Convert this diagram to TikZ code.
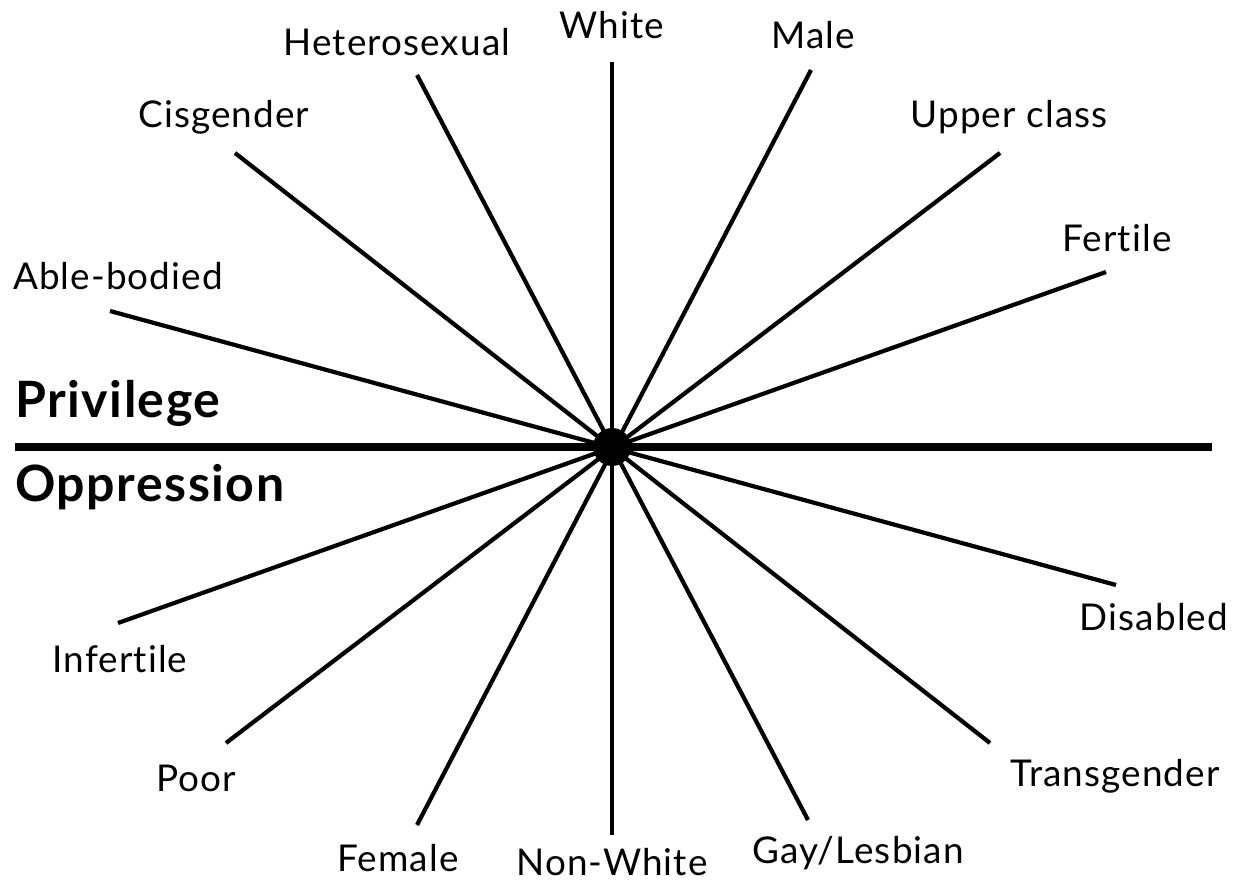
\documentclass[tikz,border=0pt]{standalone}
\usepackage{fontspec}
\setmainfont{Lato}[Ligatures=NoCommon, LetterSpace=3]
\usetikzlibrary{positioning}

\begin{document}
\begin{tikzpicture}[x=0.02cm, y=-0.02cm,
  spoke/.style={line width=2.4pt},
  axis/.style={line width=4.5pt},
  lbl/.style={font=\fontsize{21}{24}\selectfont, inner sep=0pt},
  side/.style={font=\fontsize{28.5}{32}\selectfont\bfseries, inner sep=0pt, anchor=west}]
  \useasboundingbox (0,0) rectangle (1241,884);

  % spoke ends
  \foreach \n/\x/\y in {white/612/62, nonwhite/612/835, male/811/70, female/417/825,
      upper/1000/153, poor/226/743, fertile/1106/272, infertile/118/623,
      disabled/1116/585, able/110/311, trans/990/743, cis/235/153,
      gay/808/820, hetero/417/75}
    \coordinate (\n) at (\x,\y);

  \coordinate (left) at (15,447);
  \coordinate (right) at (1212,447);
  \draw[axis] (left) -- (right);

  \foreach \a/\b in {white/nonwhite, male/female, upper/poor, fertile/infertile,
      able/disabled, cis/trans, hetero/gay}
    \draw[spoke] (\a) -- (\b);

  \node[circle, fill=black, minimum size=0.76cm, inner sep=0pt] (c) at (612,447) {};

  % labels
  \node[lbl] (lwhite) at (612,25) {White};
  \node[lbl] (lhetero) at (397,42) {Heterosexual};
  \node[lbl] (lmale) at (813,35) {Male};
  \node[lbl] (lcis) at (224,117) {Cisgender};
  \node[lbl] (lupper) at (1009,117) {Upper class};
  \node[lbl] (lable) at (118,276) {Able-bodied};
  \node[lbl] (lfertile) at (1117,238) {Fertile};
  \node[lbl] (ldisabled) at (1154,617) {Disabled};
  \node[lbl] (linfertile) at (120,659) {Infertile};
  \node[lbl] (lpoor) at (196,778) {Poor};
  \node[lbl] (ltrans) at (1115,776) {Transgender};
  \node[lbl] (lfemale) at (398,858) {Female};
  \node[lbl] (lnonwhite) at (612,862) {Non-White};
  \node[lbl] (lgay) at (858,853) {Gay/Lesbian};

  \node[side] (priv) at (15,403) {Privilege};
  \node[side] (oppr) at (15,487) {Oppression};
\end{tikzpicture}
\end{document}
